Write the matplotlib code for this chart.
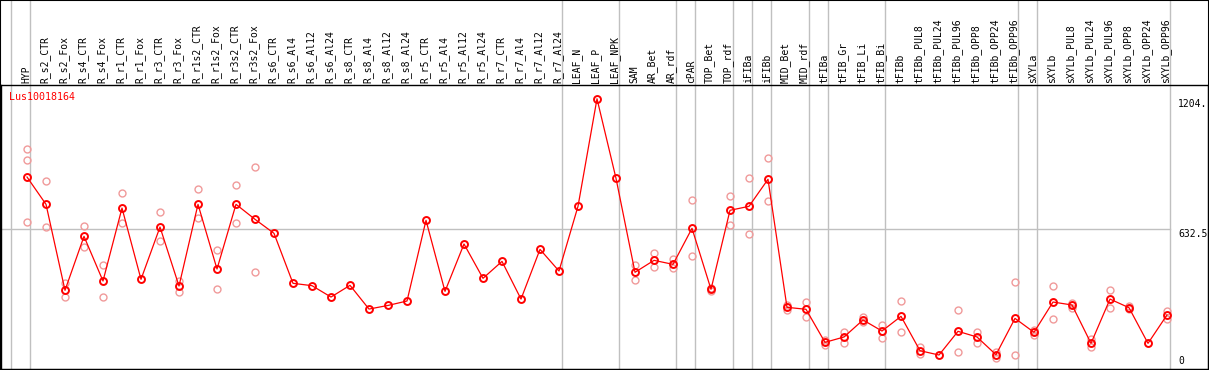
#!/usr/bin/env python3
from __future__ import annotations

import matplotlib

matplotlib.use("Agg")
import matplotlib.pyplot as plt
import matplotlib.transforms as mtransforms
from matplotlib.patches import Rectangle
import numpy as np

W_PX, H_PX = 1209, 370
HEADER_PX = 85  # header band with rotated sample names
PLOT_BOTTOM_PX = 369
COL_X0_PX, COL_STEP_PX = 27, 19
FONT = "DejaVu Sans Mono"

gene = "Lus10018164"

labels = [
    "HYP", "R_s2_CTR", "R_s2_Fox", "R_s4_CTR", "R_s4_Fox", "R_r1_CTR", "R_r1_Fox",
    "R_r3_CTR", "R_r3_Fox", "R_r1s2_CTR", "R_r1s2_Fox", "R_r3s2_CTR", "R_r3s2_Fox",
    "R_s6_CTR", "R_s6_Al4", "R_s6_Al12", "R_s6_Al24", "R_s8_CTR", "R_s8_Al4",
    "R_s8_Al12", "R_s8_Al24", "R_r5_CTR", "R_r5_Al4", "R_r5_Al12", "R_r5_Al24",
    "R_r7_CTR", "R_r7_Al4", "R_r7_Al12", "R_r7_Al24", "LEAF_N", "LEAF_P", "LEAF_NPK",
    "SAM", "AR_Bet", "AR_rdf", "cPAR", "TOP_Bet", "TOP_rdf", "iFIBa", "iFIBb",
    "MID_Bet", "MID_rdf", "tFIBa", "tFIB_Gr", "tFIB_Li", "tFIB_Bi", "tFIBb",
    "tFIBb_PUL8", "tFIBb_PUL24", "tFIBb_PUL96", "tFIBb_OPP8", "tFIBb_OPP24",
    "tFIBb_OPP96", "sXYLa", "sXYLb", "sXYLb_PUL8", "sXYLb_PUL24", "sXYLb_PUL96",
    "sXYLb_OPP8", "sXYLb_OPP24", "sXYLb_OPP96",
]

means = [
    859.7, 739.4, 360.6, 598.3, 401.6, 723, 409, 639.4, 379.5, 739.4, 454.4, 739.4,
    673.4, 611.6, 391.4, 381, 331, 382.6, 278, 294, 313.5, 669, 356, 564.6, 413.5,
    488, 322, 541, 445.6, 730.6, 1204.3, 854, 440, 492.6, 475, 633.7, 365, 713,
    730.6, 849.6, 285.7, 277, 131.4, 155, 230, 181.3, 246, 94.6, 75.6, 180, 155, 77,
    237, 175.6, 309, 296, 127, 322, 284, 127, 252,
]

replicates = [
    [981.7, 933, 660], [840.8, 638], [394, 329.8], [644, 551.4], [472, 329.8],
    [788, 655.7], [], [704, 576.5], [403, 354.4], [805.5, 679], [536.7, 368],
    [823, 655.7], [902.4, 440],
    [], [], [], [], [], [], [], [], [], [], [], [], [], [], [], [], [], [], [],
    [472, 404.6], [525, 463], [498.5, 457.5], [757, 510.4], [372, 358],
    [774.7, 647], [854, 607.3], [942, 752.7], [297, 275], [309, 244.3],
    [120, 142], [175.6, 130], [242, 220], [207.7, 149], [313.5, 175.6],
    [112, 80], [], [274, 87.5], [178, 130], [90, 62.4], [396, 74], [186, 165],
    [378, 233], [306, 281], [146, 112], [362, 281], [290, 278], [], [269.4, 233],
]

# last column index of each sample group (separators drawn after them)
group_ends = [-1, 0, 28, 31, 34, 35, 37, 38, 39, 41, 42, 45, 52, 53, 60]

y_top = 1265.0
y_bottom = 14.0
ref_level = 632.5
ticks = [1204, 632.5, 0]
tick_labels = ["1204.", "632.5", "0"]

GRID = "#c0c0c0"
RED = "#ff0000"
PINK = "#f09a9a"


def px_to_col(x_px: float) -> float:
    return (x_px - COL_X0_PX) / COL_STEP_PX


def main() -> None:
    fig = plt.figure(figsize=(W_PX / 100, H_PX / 100), dpi=100)
    plot_h = PLOT_BOTTOM_PX - HEADER_PX
    ax = fig.add_axes([1 / W_PX, (H_PX - PLOT_BOTTOM_PX) / H_PX, (W_PX - 2) / W_PX, plot_h / H_PX])
    ax.set_xlim(px_to_col(1), px_to_col(W_PX - 1))
    ax.set_ylim(y_bottom, y_top)
    ax.set_xticks([])
    ax.set_yticks([])
    for sp in ax.spines.values():
        sp.set_color("black")
        sp.set_linewidth(1.0)

    header_top = 1 + HEADER_PX / plot_h
    sep_off = 3 / COL_STEP_PX
    for g in group_ends:
        ax.axvline(g + sep_off, ymin=0, ymax=header_top, color=GRID, lw=1.0,
                   clip_on=False, zorder=1)
    x0, x1 = ax.get_xlim()
    last_x = (group_ends[-1] + sep_off - x0) / (x1 - x0)
    ax.axhline(ref_level, xmin=0, xmax=last_x, color=GRID, lw=1.0, zorder=1)

    cols = np.arange(len(labels))
    head = mtransforms.blended_transform_factory(ax.transData, ax.transAxes)
    for i, lab in zip(cols, labels):
        ax.text(i + 4 / COL_STEP_PX, 1 + 2 / plot_h, lab, transform=head, rotation=90,
                rotation_mode="anchor", ha="left", va="bottom", fontsize=7,
                family=FONT, color="black")

    rx = [i for i, reps in zip(cols, replicates) for _ in reps]
    ry = [v for reps in replicates for v in reps]
    ax.plot(rx, ry, linestyle="none", marker="o", ms=5, mfc="none", mec=PINK,
            mew=1.0, zorder=2)
    ax.plot(cols, means, color=RED, lw=0.9, marker="o", ms=5, mfc="none", mec=RED,
            mew=1.4, zorder=3)

    lab_x = px_to_col(1178)
    shift = mtransforms.ScaledTranslation(0, -5 / 100, fig.dpi_scale_trans)
    for t, tl in zip(ticks, tick_labels):
        if t < y_bottom:
            ax.text(lab_x, 0.012, tl, transform=head, ha="left", va="bottom",
                    fontsize=7, family=FONT)
        else:
            ax.text(lab_x, t, tl, transform=ax.transData + shift, ha="left",
                    va="center", fontsize=7, family=FONT)

    fig.text(9 / W_PX, 1 - 97.5 / H_PX, gene, fontsize=7.2, family=FONT, color=RED,
             ha="left", va="center")
    fig.add_artist(Rectangle((0, 0), 1, 1, transform=fig.transFigure, fill=False,
                             ec="black", lw=1.5))

    fig.savefig("out.png", dpi=100)


if __name__ == "__main__":
    main()
